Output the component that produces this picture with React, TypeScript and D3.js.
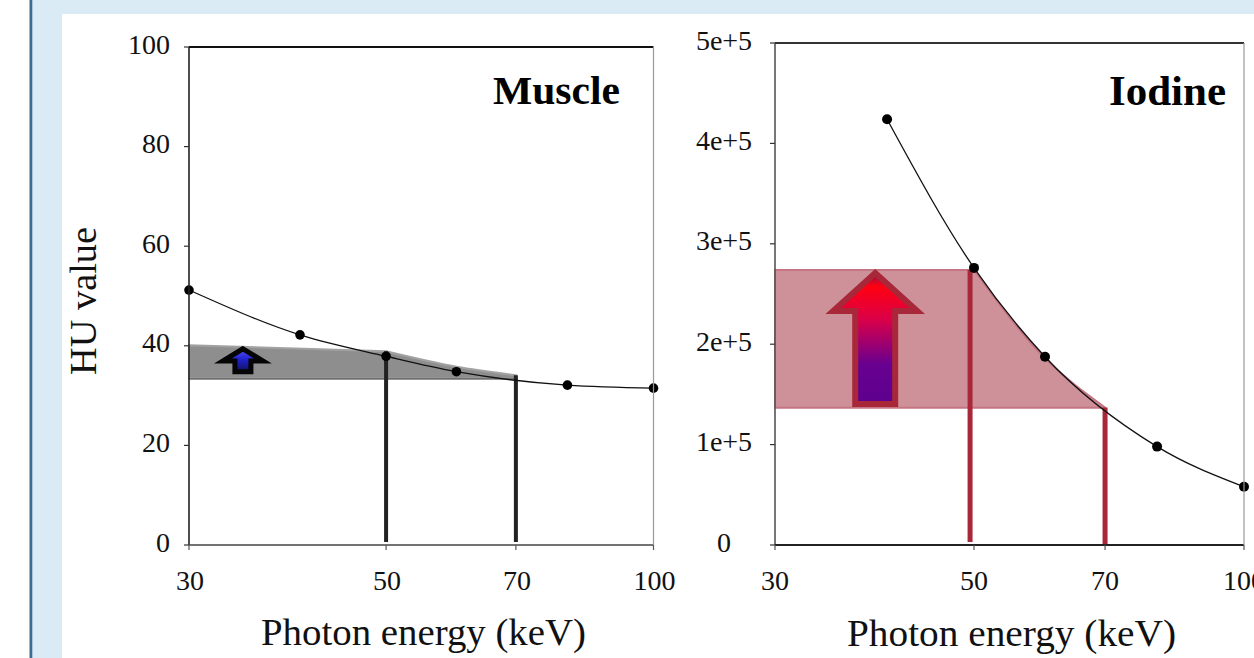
import React from "react";
import * as d3 from "d3";

// ---- data ----
const energies = [30, 40, 50, 60, 80, 100];
const muscleHU = [51.2, 42.2, 37.9, 34.8, 32.1, 31.5];
const iodineEnergies = [40, 50, 60, 80, 100];
const iodineValues = [424000, 276000, 187500, 98000, 58000];

const muscleBandEnergies = [30, 50, 60, 70];
const muscleBandTop = [40.1, 38.9, 35.8, 34.1];
const muscleBandBottom = 33.4;
const muscleMarkerEnergies = [50, 70];
const muscleMarkerTops = [38.9, 34.1];

const iodineBandEnergies = [30, 50, 60, 70];
const iodineBandTop = [274000, 274000, 186000, 137000];
const iodineBandBottom = 136800;
const iodineMarkerEnergies = [49.5, 70];
const iodineMarkerTops = [274000, 137000];

const muscleArrow = [34.5, 34.8, 39.4]; // energy, from, to
const iodineArrow = [38.8, 140400, 270900];

const xTicks = [30, 50, 70, 100];
const muscleYTicks = [0, 20, 40, 60, 80, 100];
const iodineYTicks = [0, 100000, 200000, 300000, 400000, 500000];
const iodineYTickLabels = ["0", "1e+5", "2e+5", "3e+5", "4e+5", "5e+5"];

const W = 1254;
const H = 658;
const FONT = "'Liberation Serif', 'Times New Roman', serif";

function bandPath(
  x: (v: number) => number,
  y: (v: number) => number,
  es: number[],
  tops: number[],
  bottom: number
) {
  const curve = d3
    .line<[number, number]>()
    .x((d) => x(d[0]))
    .y((d) => y(d[1]))
    .curve(d3.curveMonotoneX)(es.slice(1).map((e, i) => [e, tops[i + 1]] as [number, number])) as string;
  return (
    `M${x(es[0])},${y(tops[0])}L` +
    curve.slice(1) +
    `L${x(es[es.length - 1])},${y(bottom)}L${x(es[0])},${y(bottom)}Z`
  );
}

function arrowPath(cx: number, tipY: number, baseY: number, neckFrac: number, headHalf: number, shaftHalf: number) {
  const neckY = tipY + (baseY - tipY) * neckFrac;
  return `M${cx},${tipY}L${cx + headHalf},${neckY}L${cx + shaftHalf},${neckY}L${cx + shaftHalf},${baseY}L${cx - shaftHalf},${baseY}L${cx - shaftHalf},${neckY}L${cx - headHalf},${neckY}Z`;
}

export default function App() {
  // Muscle panel scales
  const x1 = d3.scaleLog().domain([30, 100]).range([189, 653.5]);
  const y1 = d3.scaleLinear().domain([0, 100]).range([545, 47]);
  // Iodine panel scales
  const x2 = d3.scaleLog().domain([30, 100]).range([775, 1244]);
  const y2 = d3.scaleLinear().domain([0, 500000]).range([545, 43]);

  const lineGen = (x: any, y: any) =>
    d3
      .line<[number, number]>()
      .x((d) => x(d[0]))
      .y((d) => y(d[1]))
      .curve(d3.curveMonotoneX);

  const musclePts = energies.map((e, i) => [e, muscleHU[i]] as [number, number]);
  const iodinePts = iodineEnergies.map((e, i) => [e, iodineValues[i]] as [number, number]);

  const tickStyle = { fontFamily: FONT, fontSize: 28, fill: "#111" } as const;

  return (
    <svg
      width={W}
      height={H}
      style={{ position: "absolute", left: 0, top: 0, display: "block" }}
    >
      <defs>
        <linearGradient id="blueGrad" x1="0" y1="0" x2="0" y2="1">
          <stop offset="0" stopColor="#5050ff" />
          <stop offset="0.5" stopColor="#2020c8" />
          <stop offset="1" stopColor="#101058" />
        </linearGradient>
        <linearGradient id="redGrad" x1="0" y1="0" x2="0" y2="1">
          <stop offset="0" stopColor="#8a1050" />
          <stop offset="0.1" stopColor="#ff0010" />
          <stop offset="0.35" stopColor="#dc0048" />
          <stop offset="0.7" stopColor="#680090" />
          <stop offset="1" stopColor="#5e008e" />
        </linearGradient>
      </defs>

      {/* page frame */}
      <rect x={0} y={0} width={W} height={H} fill="#ffffff" />
      <rect x={31} y={0} width={W - 31} height={H} fill="#dbebf5" />
      <rect x={29.5} y={0} width={2.8} height={H} fill="#3d6c8e" />
      <rect x={62} y={14} width={W - 62} height={H - 14} fill="#ffffff" />

      {/* ---------- Muscle panel ---------- */}
      <path
        d={bandPath(x1, y1, muscleBandEnergies, muscleBandTop, muscleBandBottom)}
        fill="#8e8e8e"
        stroke="#a2a2a2"
        strokeWidth={2}
      />
      <line
        x1={x1(30)}
        x2={x1(70)}
        y1={y1(muscleBandBottom)}
        y2={y1(muscleBandBottom)}
        stroke="#707070"
        strokeWidth={1.5}
      />
      {muscleMarkerEnergies.map((e, i) => (
        <line
          key={e}
          x1={x1(e)}
          x2={x1(e)}
          y1={y1(0) - 3}
          y2={y1(muscleMarkerTops[i])}
          stroke="#222"
          strokeWidth={4}
        />
      ))}
      <path
        d={arrowPath(x1(muscleArrow[0]), y1(muscleArrow[2]), y1(muscleArrow[1]), 0.53, 20, 8)}
        fill="url(#blueGrad)"
        stroke="#050505"
        strokeWidth={5}
        strokeLinejoin="miter"
      />
      <path d={lineGen(x1, y1)(musclePts) as string} fill="none" stroke="#111" strokeWidth={1.3} />
      {musclePts.map((d) => (
        <circle key={d[0]} cx={x1(d[0])} cy={y1(d[1])} r={4.8} fill="#000" />
      ))}

      {/* axes */}
      <line x1={189} x2={189} y1={47} y2={545} stroke="#222" strokeWidth={1.6} />
      <line x1={189} x2={653.5} y1={545} y2={545} stroke="#444" strokeWidth={1.6} />
      <line x1={189} x2={653.5} y1={47} y2={47} stroke="#111" strokeWidth={1.8} />
      <line x1={653.5} x2={653.5} y1={47} y2={545} stroke="#999" strokeWidth={1.2} />
      {muscleYTicks.map((t) => (
        <g key={t}>
          <line x1={184} x2={189} y1={y1(t)} y2={y1(t)} stroke="#333" strokeWidth={1.2} />
          <text x={170} y={y1(t) + 6.5} textAnchor="end" {...tickStyle}>
            {t}
          </text>
        </g>
      ))}
      {xTicks.map((t) => (
        <g key={t}>
          <line x1={x1(t)} x2={x1(t)} y1={545} y2={550} stroke="#555" strokeWidth={1.2} />
          <text x={x1(t) + 1} y={590} textAnchor="middle" {...tickStyle}>
            {t}
          </text>
        </g>
      ))}
      <text
        x={620}
        y={104}
        textAnchor="end"
        fontFamily={FONT}
        fontWeight="bold"
        fontSize={41}
        textLength={127}
        lengthAdjust="spacingAndGlyphs"
        fill="#000"
      >
        Muscle
      </text>
      <text
        x={423.5}
        y={645}
        textAnchor="middle"
        fontFamily={FONT}
        fontSize={37}
        textLength={325}
        lengthAdjust="spacingAndGlyphs"
        fill="#111"
      >
        Photon energy (keV)
      </text>
      <text
        transform="translate(96,301) rotate(-90)"
        textAnchor="middle"
        fontFamily={FONT}
        fontSize={38}
        textLength={148}
        lengthAdjust="spacingAndGlyphs"
        fill="#111"
      >
        HU value
      </text>

      {/* ---------- Iodine panel ---------- */}
      <path
        d={bandPath(x2, y2, iodineBandEnergies, iodineBandTop, iodineBandBottom)}
        fill="#cf9199"
        stroke="#c47581"
        strokeWidth={2}
      />
      {iodineMarkerEnergies.map((e, i) => (
        <line
          key={e}
          x1={x2(e)}
          x2={x2(e)}
          y1={i === 0 ? y2(0) - 3 : y2(0)}
          y2={y2(iodineMarkerTops[i])}
          stroke="#a8283a"
          strokeWidth={5}
        />
      ))}
      <path
        d={arrowPath(x2(iodineArrow[0]), y2(iodineArrow[2]), y2(iodineArrow[1]), 0.29, 42, 20)}
        fill="url(#redGrad)"
        stroke="#a8283a"
        strokeWidth={6}
        strokeLinejoin="miter"
      />
      <path d={lineGen(x2, y2)(iodinePts) as string} fill="none" stroke="#111" strokeWidth={1.3} />
      {iodinePts.map((d) => (
        <circle key={d[0]} cx={x2(d[0])} cy={y2(d[1])} r={5} fill="#000" />
      ))}

      <line x1={775} x2={775} y1={43} y2={545} stroke="#555" strokeWidth={1.6} />
      <line x1={775} x2={1244} y1={545} y2={545} stroke="#222" strokeWidth={2} />
      <line x1={775} x2={1244} y1={43} y2={43} stroke="#333" strokeWidth={2} />
      <line x1={1244} x2={1244} y1={43} y2={545} stroke="#999" strokeWidth={1.2} />
      {iodineYTicks.map((t, i) => (
        <g key={t}>
          <line x1={770} x2={775} y1={y2(t)} y2={y2(t)} stroke="#333" strokeWidth={1.2} />
          <text x={724} y={y2(t) + 6.5} textAnchor="middle" {...tickStyle}>
            {iodineYTickLabels[i]}
          </text>
        </g>
      ))}
      {xTicks.map((t) => (
        <g key={t}>
          <line x1={x2(t)} x2={x2(t)} y1={545} y2={550} stroke="#555" strokeWidth={1.2} />
          <text x={x2(t)} y={590} textAnchor="middle" {...tickStyle}>
            {t}
          </text>
        </g>
      ))}
      <text
        x={1226}
        y={105}
        textAnchor="end"
        fontFamily={FONT}
        fontWeight="bold"
        fontSize={42}
        textLength={117}
        lengthAdjust="spacingAndGlyphs"
        fill="#000"
      >
        Iodine
      </text>
      <text
        x={1011.5}
        y={646}
        textAnchor="middle"
        fontFamily={FONT}
        fontSize={37}
        textLength={329}
        lengthAdjust="spacingAndGlyphs"
        fill="#111"
      >
        Photon energy (keV)
      </text>
    </svg>
  );
}
